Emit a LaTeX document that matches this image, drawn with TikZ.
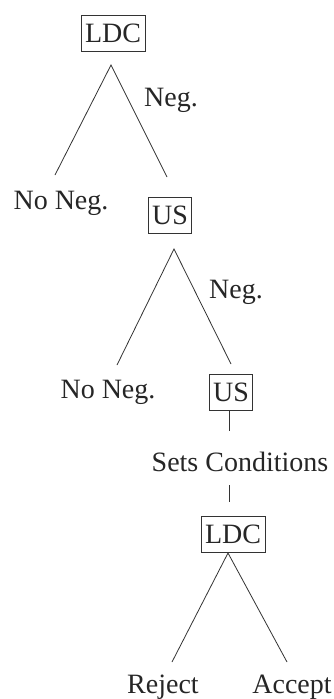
\documentclass[tikz,border=0pt]{standalone}
\usepackage{fontspec}
\setmainfont{Liberation Serif}
\begin{document}
\begin{tikzpicture}[x=1pt,y=-1pt,
  lbl/.style={font=\fontsize{28}{30}\selectfont, text=black!85, inner sep=0pt},
  pbox/.style={lbl, draw=black!80, line width=0.8pt, inner xsep=4pt, minimum height=36pt},
  edge/.style={draw=black!80, line width=0.8pt}]
\useasboundingbox[fill=white] (0,0) rectangle (333,699);
% nodes
\node[pbox] (ldc1) at (113,33) {LDC};
\node[lbl] (neg1) at (171,100) {Neg.};
\node[lbl] (noneg1) at (61,203) {No Neg.};
\node[pbox] (us1) at (170,215) {US};
\node[lbl] (neg2) at (236,292) {Neg.};
\node[lbl] (noneg2) at (108,392) {No Neg.};
\node[pbox] (us2) at (231,392) {US};
\node[lbl] (sets) at (240,462) {Sets Conditions};
\node[pbox] (ldc2) at (233,534) {LDC};
\node[lbl] (reject) at (163,687) {Reject};
\node[lbl] (accept) at (292,687) {Accept};
% connector end points
\coordinate (a1) at (111,65);
\coordinate (l1) at (55,175);
\coordinate (r1) at (167,177);
\coordinate (a2) at (174,249);
\coordinate (l2) at (117,365);
\coordinate (r2) at (231,364);
\coordinate (a3) at (228,553);
\coordinate (l3) at (172,662);
\coordinate (r3) at (287,662);
\coordinate (v1) at (229,431);
\coordinate (v2) at (229,485);
% connectors
\draw[edge] (l1) -- (a1) -- (r1);
\draw[edge] (l2) -- (a2) -- (r2);
\draw[edge] (l3) -- (a3) -- (r3);
\draw[edge] ([yshift=-1pt]us2.south -| v1) -- (v1);
\draw[edge] (v2) -- ([yshift=14pt]ldc2.north -| v2);
\end{tikzpicture}
\end{document}
